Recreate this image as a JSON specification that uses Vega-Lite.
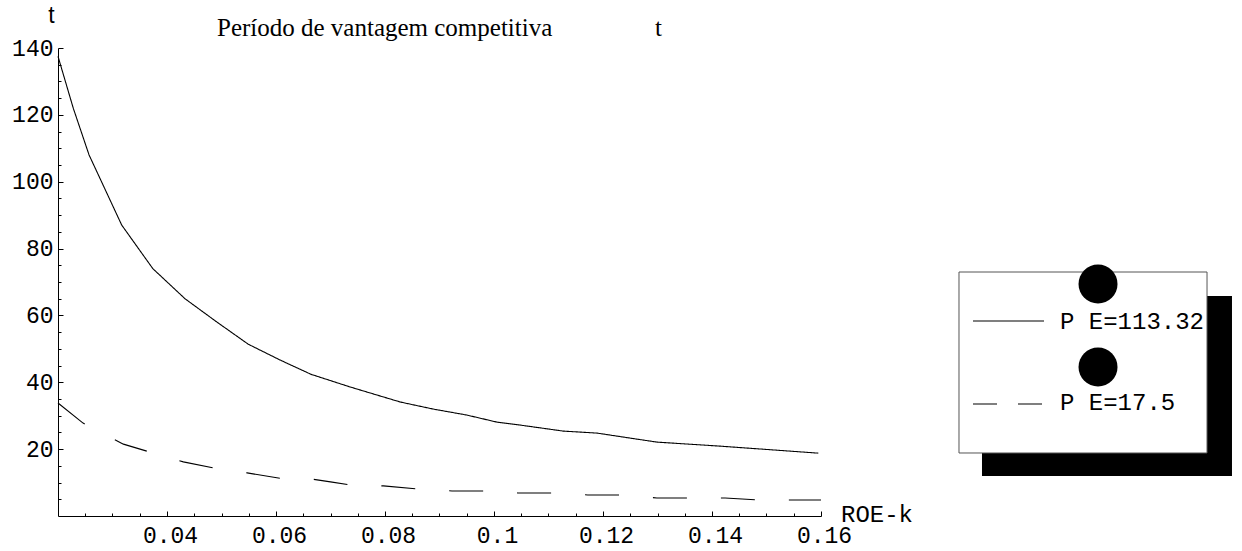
{
  "$schema": "https://vega.github.io/schema/vega-lite/v6.json",
  "width": 763,
  "height": 468,
  "autosize": {"type": "none"},
  "padding": {"left": 58, "top": 48, "right": 421, "bottom": 35},
  "background": "white",
  "config": {"view": {"stroke": null}, "axis": {"grid": false}},
  "data": {
    "values": [
      {"series": "PE=113.32", "k": 0.02, "t": 137.5},
      {"series": "PE=113.32", "k": 0.0228, "t": 122},
      {"series": "PE=113.32", "k": 0.0257, "t": 108},
      {"series": "PE=113.32", "k": 0.0317, "t": 87},
      {"series": "PE=113.32", "k": 0.0374, "t": 74},
      {"series": "PE=113.32", "k": 0.0433, "t": 65},
      {"series": "PE=113.32", "k": 0.049, "t": 58.2},
      {"series": "PE=113.32", "k": 0.0549, "t": 51.4},
      {"series": "PE=113.32", "k": 0.0607, "t": 46.7},
      {"series": "PE=113.32", "k": 0.0664, "t": 42.4},
      {"series": "PE=113.32", "k": 0.0736, "t": 38.6},
      {"series": "PE=113.32", "k": 0.0828, "t": 34.1},
      {"series": "PE=113.32", "k": 0.0888, "t": 32},
      {"series": "PE=113.32", "k": 0.095, "t": 30.2},
      {"series": "PE=113.32", "k": 0.1005, "t": 28.1},
      {"series": "PE=113.32", "k": 0.1048, "t": 27.2},
      {"series": "PE=113.32", "k": 0.1127, "t": 25.4},
      {"series": "PE=113.32", "k": 0.1189, "t": 24.8},
      {"series": "PE=113.32", "k": 0.1299, "t": 22.1},
      {"series": "PE=113.32", "k": 0.1415, "t": 20.9},
      {"series": "PE=113.32", "k": 0.1595, "t": 18.8},
      {"series": "PE=17.5", "k": 0.02, "t": 33.8},
      {"series": "PE=17.5", "k": 0.0246, "t": 27.8},
      {"series": "PE=17.5", "k": 0.0302, "t": 23},
      {"series": "PE=17.5", "k": 0.032, "t": 21.5},
      {"series": "PE=17.5", "k": 0.0363, "t": 19.4},
      {"series": "PE=17.5", "k": 0.043, "t": 16.2},
      {"series": "PE=17.5", "k": 0.0484, "t": 14.4},
      {"series": "PE=17.5", "k": 0.0547, "t": 12.9},
      {"series": "PE=17.5", "k": 0.0607, "t": 11.3},
      {"series": "PE=17.5", "k": 0.0668, "t": 11},
      {"series": "PE=17.5", "k": 0.07, "t": 10.2},
      {"series": "PE=17.5", "k": 0.0736, "t": 9.3},
      {"series": "PE=17.5", "k": 0.0797, "t": 9},
      {"series": "PE=17.5", "k": 0.0859, "t": 8.1},
      {"series": "PE=17.5", "k": 0.0923, "t": 7.5},
      {"series": "PE=17.5", "k": 0.0983, "t": 7.5},
      {"series": "PE=17.5", "k": 0.1044, "t": 6.9},
      {"series": "PE=17.5", "k": 0.111, "t": 6.9},
      {"series": "PE=17.5", "k": 0.1172, "t": 6.3},
      {"series": "PE=17.5", "k": 0.1237, "t": 6.3},
      {"series": "PE=17.5", "k": 0.1299, "t": 5.4},
      {"series": "PE=17.5", "k": 0.136, "t": 5.4},
      {"series": "PE=17.5", "k": 0.1424, "t": 5.4},
      {"series": "PE=17.5", "k": 0.1486, "t": 4.8},
      {"series": "PE=17.5", "k": 0.1549, "t": 4.8},
      {"series": "PE=17.5", "k": 0.16, "t": 4.8}
    ]
  },
  "layer": [
    {
      "mark": {"type": "line", "color": "black", "strokeWidth": 1.1},
      "encoding": {
        "x": {
          "field": "k", "type": "quantitative",
          "scale": {"domain": [0.02, 0.16], "nice": false, "zero": false},
          "axis": {
            "orient": "bottom", "title": null,
            "values": [0.04, 0.06, 0.08, 0.1, 0.12, 0.14, 0.16],
            "format": "~g",
            "tickSize": -5, "tickColor": "black", "tickWidth": 1,
            "domainColor": "black", "domainWidth": 1,
            "labelFont": "Liberation Mono", "labelFontSize": 23, "labelColor": "black",
            "labelPadding": 13, "labelOffset": 3, "labelBaseline": "top",
            "labelFlush": false, "labelOverlap": false
          }
        },
        "y": {
          "field": "t", "type": "quantitative",
          "scale": {"domain": [0, 140], "nice": false, "zero": false},
          "axis": {
            "orient": "left", "title": null,
            "values": [20, 40, 60, 80, 100, 120, 140],
            "tickSize": -5, "tickColor": "black", "tickWidth": 1,
            "domainColor": "black", "domainWidth": 1,
            "labelFont": "Liberation Mono", "labelFontSize": 23, "labelColor": "black",
            "labelPadding": 10, "labelAlign": "right", "labelBaseline": "middle",
            "labelFlush": false, "labelOverlap": false
          }
        },
        "strokeDash": {
          "field": "series", "type": "nominal",
          "scale": {"domain": ["PE=113.32", "PE=17.5"], "range": [[1, 0], [34, 34]]},
          "legend": null
        }
      }
    },
    {
      "mark": {"type": "point", "opacity": 0},
      "encoding": {
        "x": {
          "field": "k", "type": "quantitative",
          "axis": {
            "orient": "bottom", "title": null, "labels": false, "domain": false,
            "values": [0.025, 0.03, 0.035, 0.045, 0.05, 0.055, 0.065, 0.07, 0.075, 0.085, 0.09, 0.095, 0.105, 0.11, 0.115, 0.125, 0.13, 0.135, 0.145, 0.15, 0.155],
            "tickSize": -3, "tickColor": "black", "tickWidth": 1
          }
        },
        "y": {
          "field": "t", "type": "quantitative",
          "axis": {
            "orient": "left", "title": null, "labels": false, "domain": false,
            "values": [5, 10, 15, 25, 30, 35, 45, 50, 55, 65, 70, 75, 85, 90, 95, 105, 110, 115, 125, 130, 135],
            "tickSize": -3, "tickColor": "black", "tickWidth": 1
          }
        }
      }
    },
    {
      "data": {"values": [{"label": "Período de vantagem competitiva"}]},
      "mark": {"type": "text", "font": "Liberation Serif", "fontSize": 25, "align": "left", "baseline": "alphabetic", "color": "black"},
      "encoding": {
        "x": {"datum": 0.04917, "type": "quantitative", "axis": null},
        "y": {"datum": 143.58, "type": "quantitative", "axis": null},
        "text": {"field": "label"}
      }
    },
    {
      "data": {"values": [{"label": "t"}]},
      "mark": {"type": "text", "font": "Liberation Serif", "fontSize": 25, "align": "left", "baseline": "alphabetic", "color": "black"},
      "encoding": {
        "x": {"datum": 0.12954, "type": "quantitative", "axis": null},
        "y": {"datum": 143.58, "type": "quantitative", "axis": null},
        "text": {"field": "label"}
      }
    },
    {
      "data": {"values": [{"label": "t"}]},
      "mark": {"type": "text", "font": "Liberation Sans", "fontSize": 23, "align": "left", "baseline": "alphabetic", "color": "black"},
      "encoding": {
        "x": {"datum": 0.0182, "type": "quantitative", "axis": null},
        "y": {"datum": 147.47, "type": "quantitative", "axis": null},
        "text": {"field": "label"}
      }
    },
    {
      "data": {"values": [{"label": "ROE-k"}]},
      "mark": {"type": "text", "font": "Liberation Mono", "fontSize": 24, "align": "left", "baseline": "alphabetic", "color": "black"},
      "encoding": {
        "x": {"datum": 0.16367, "type": "quantitative", "axis": null},
        "y": {"datum": -1.79, "type": "quantitative", "axis": null},
        "text": {"field": "label"}
      }
    },
    {
      "data": {"values": [{"item": "shadow"}]},
      "mark": {"type": "rect", "color": "black"},
      "encoding": {
        "x": {"datum": 0.18954, "type": "quantitative", "axis": null},
        "x2": {"datum": 0.23541},
        "y": {"datum": 65.81, "type": "quantitative", "axis": null},
        "y2": {"datum": 11.97}
      }
    },
    {
      "data": {"values": [{"item": "box"}]},
      "mark": {"type": "rect", "fill": "white", "stroke": "#555555", "strokeWidth": 1},
      "encoding": {
        "x": {"datum": 0.18532, "type": "quantitative", "axis": null},
        "x2": {"datum": 0.23083},
        "y": {"datum": 72.99, "type": "quantitative", "axis": null},
        "y2": {"datum": 18.85}
      }
    },
    {
      "data": {"values": [{"series": "PE=113.32"}]},
      "mark": {"type": "rule", "color": "black", "strokeWidth": 1.1},
      "encoding": {
        "x": {"datum": 0.18789, "type": "quantitative", "axis": null},
        "x2": {"datum": 0.20092},
        "y": {"datum": 58.33, "type": "quantitative", "axis": null}
      }
    },
    {
      "data": {"values": [{"series": "PE=17.5"}]},
      "mark": {"type": "rule", "color": "black", "strokeWidth": 1.1, "strokeDash": [24, 21]},
      "encoding": {
        "x": {"datum": 0.18789, "type": "quantitative", "axis": null},
        "x2": {"datum": 0.20092},
        "y": {"datum": 33.5, "type": "quantitative", "axis": null}
      }
    },
    {
      "data": {"values": [{"label": "P E=113.32"}]},
      "mark": {"type": "text", "font": "Liberation Mono", "fontSize": 24, "align": "left", "baseline": "alphabetic", "color": "black"},
      "encoding": {
        "x": {"datum": 0.20385, "type": "quantitative", "axis": null},
        "y": {"datum": 55.94, "type": "quantitative", "axis": null},
        "text": {"field": "label"}
      }
    },
    {
      "data": {"values": [{"label": "P E=17.5"}]},
      "mark": {"type": "text", "font": "Liberation Mono", "fontSize": 24, "align": "left", "baseline": "alphabetic", "color": "black"},
      "encoding": {
        "x": {"datum": 0.20385, "type": "quantitative", "axis": null},
        "y": {"datum": 31.71, "type": "quantitative", "axis": null},
        "text": {"field": "label"}
      }
    },
    {
      "data": {"values": [{"item": "dot1"}]},
      "mark": {"type": "circle", "color": "black", "opacity": 1, "size": 1520},
      "encoding": {
        "x": {"datum": 0.21083, "type": "quantitative", "axis": null},
        "y": {"datum": 69.4, "type": "quantitative", "axis": null}
      }
    },
    {
      "data": {"values": [{"item": "dot2"}]},
      "mark": {"type": "circle", "color": "black", "opacity": 1, "size": 1520},
      "encoding": {
        "x": {"datum": 0.21083, "type": "quantitative", "axis": null},
        "y": {"datum": 44.57, "type": "quantitative", "axis": null}
      }
    }
  ],
  "resolve": {"axis": {"x": "independent", "y": "independent"}}
}
